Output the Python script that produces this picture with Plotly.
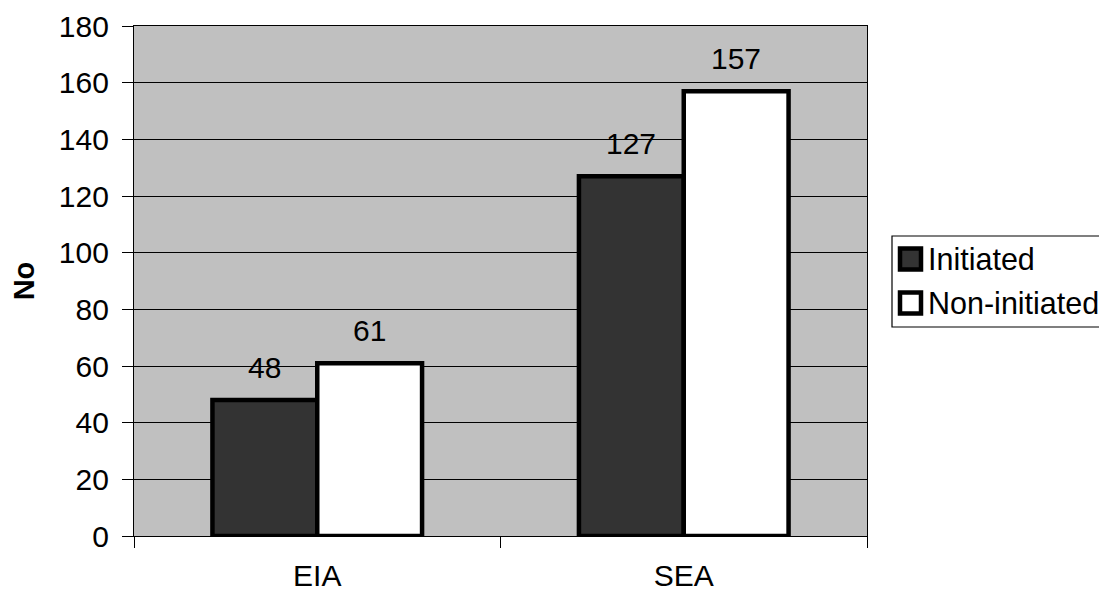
import plotly.graph_objects as go

categories = ["EIA", "SEA"]
initiated = [48, 127]
non_initiated = [61, 157]
series_names = ["Initiated", "Non-initiated"]
y_ticks = [0, 20, 40, 60, 80, 100, 120, 140, 160, 180]

W, H = 1099, 593
L, R, T, B = 134, 867, 26, 536
FONT = "Liberation Sans, Arial, sans-serif"
FS = 30
BARGAP = 0.428

fig = go.Figure()
fig.add_trace(go.Bar(name=series_names[0], x=categories, y=initiated,
                     marker=dict(color="#333333", line=dict(color="black", width=4.5)),
                     showlegend=False))
fig.add_trace(go.Bar(name=series_names[1], x=categories, y=non_initiated,
                     marker=dict(color="white", line=dict(color="black", width=4.5)),
                     showlegend=False))

pw = R - L
cat_px = pw / len(categories)
bar_px = cat_px * (1 - BARGAP) / 2
for vals, sign in ((initiated, -1), (non_initiated, 1)):
    for c, v in zip(categories, vals):
        fig.add_annotation(x=c, y=v, xref="x", yref="y", text=str(v), showarrow=False,
                           xshift=sign * bar_px / 2, yshift=33, yanchor="middle",
                           font=dict(family=FONT, size=FS, color="black"))

# manual legend
def px_x(p):
    return (p - L) / pw
def px_y(p):
    return (B - p) / (B - T)

fig.add_shape(type="rect", xref="paper", yref="paper",
              x0=px_x(892), x1=px_x(1130), y0=px_y(327), y1=px_y(236),
              line=dict(color="black", width=1.2), fillcolor="white")
for name, fill, yc in ((series_names[0], "#333333", 259), (series_names[1], "white", 303)):
    fig.add_shape(type="rect", xref="paper", yref="paper",
                  x0=px_x(900), x1=px_x(921), y0=px_y(yc + 10.5), y1=px_y(yc - 10.5),
                  line=dict(color="black", width=4.5), fillcolor=fill)
    fig.add_annotation(xref="paper", yref="paper", x=px_x(926), y=px_y(yc),
                       text=name, showarrow=False, xanchor="left", yanchor="middle",
                       font=dict(family=FONT, size=30.5, color="black"))

fig.update_layout(
    width=W, height=H,
    margin=dict(l=L, r=W - R, t=T, b=H - B, autoexpand=False),
    paper_bgcolor="white", plot_bgcolor="#c0c0c0",
    barmode="group", bargap=BARGAP, bargroupgap=0,
    font=dict(family=FONT, size=FS, color="black"),
    showlegend=False,
)
fig.update_xaxes(showline=True, linecolor="black", linewidth=1.3, mirror=True,
                 ticks="outside", ticklen=11, tickcolor="black", tickwidth=1.3,
                 tickson="boundaries", showgrid=False, ticklabelstandoff=13,
                 tickfont=dict(family=FONT, size=FS, color="black"))
fig.update_yaxes(range=[0, 180], tickvals=y_ticks, showline=True, linecolor="black",
                 linewidth=1.3, mirror=True, ticks="outside", ticklen=11,
                 tickcolor="black", tickwidth=1.3, showgrid=True, gridcolor="black",
                 gridwidth=1.2, zeroline=False, ticklabelstandoff=7,
                 tickfont=dict(family=FONT, size=FS, color="black"),
                 title=dict(text="<b>No</b>", standoff=15,
                            font=dict(family=FONT, size=29, color="black")))

fig.write_html("out.html")
